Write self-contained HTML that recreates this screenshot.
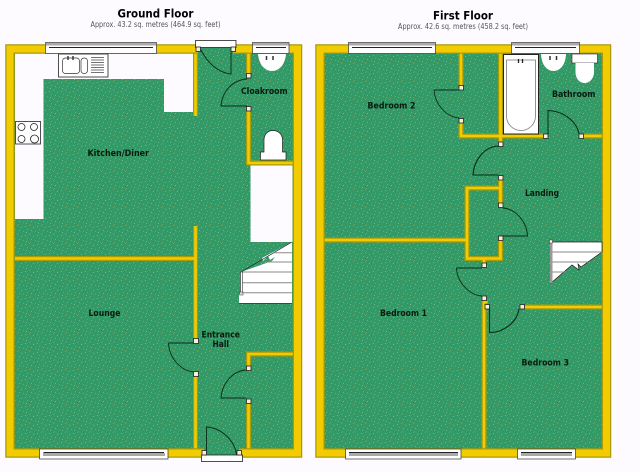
<!DOCTYPE html>
<html><head><meta charset="utf-8"><style>
html,body{margin:0;padding:0;background:#fdfbff}
svg{display:block}
text{font-family:"DejaVu Sans","Liberation Sans",sans-serif;fill:#0a1a10}
.l{font-size:8.5px;font-weight:bold}
.t{font-size:11.5px;font-weight:bold;fill:#000}
.s{font-size:7.5px;fill:#555}
</style></head><body>
<svg width="640" height="472" viewBox="0 0 640 472" xmlns="http://www.w3.org/2000/svg">
<defs>
<pattern id="d" width="12" height="9" patternUnits="userSpaceOnUse">
<rect width="12" height="9" fill="#339966"/>
<rect x="1" y="1" width="1" height="1" fill="#6db58b"/><rect x="5" y="0" width="1" height="1" fill="#5aaa7e"/>
<rect x="9" y="2" width="1" height="1" fill="#6db58b"/><rect x="3" y="4" width="1" height="1" fill="#5aaa7e"/>
<rect x="7" y="5" width="1" height="1" fill="#6db58b"/><rect x="11" y="6" width="1" height="1" fill="#5aaa7e"/>
<rect x="2" y="7" width="1" height="1" fill="#6db58b"/><rect x="6" y="8" width="1" height="1" fill="#6f9a5a"/>
</pattern>
</defs>
<rect width="640" height="472" fill="#fdfbff"/>

<!-- GROUND FLOOR -->
<rect x="10" y="49" width="287.5" height="404" fill="url(#d)"/>
<path d="M15 53H193V112H164V79H43.5V219H15Z" fill="#fdfbff"/>
<rect x="250.5" y="165" width="42" height="77" fill="#fdfbff"/>
<g fill="none" stroke="#a89a08" stroke-width="5">
<path d="M195.5 53V116M195.5 226V341M195.5 374V449M15 258.5H195.5M248.5 53V75M248.5 108V163H293M248.5 366V354H293M248.5 401V449"/>
</g>
<g fill="none" stroke="#f2cc00" stroke-width="2.6">
<path d="M195.5 53V116M195.5 226V341M195.5 374V449M15 258.5H195.5M248.5 53V75M248.5 108V163H293M248.5 366V354H293M248.5 401V449"/>
</g>
<rect x="10" y="49" width="287.5" height="404" fill="none" stroke="#a89a08" stroke-width="9.5"/>
<rect x="10" y="49" width="287.5" height="404" fill="none" stroke="#f2cc00" stroke-width="7"/>
<rect x="198" y="44" width="35" height="30" fill="url(#d)"/>
<rect x="204" y="448" width="35" height="8" fill="url(#d)"/>
<rect x="195.5" y="40.5" width="40.5" height="7" fill="#fff" stroke="#222" stroke-width=".8"/>
<rect x="201.5" y="455" width="41" height="6.5" fill="#fff" stroke="#222" stroke-width=".8"/>
<g fill="none" stroke="#0b2a18" stroke-width=".9">
<path d="M201 50C207 62 218 73 231 74V47"/>
<path d="M247 79C232 80 222 92 221 106H247"/>
<path d="M168.5 343H194M168.5 343C169 358 181 371 194 372"/>
<path d="M246 370C232 371 222 384 221 398H246"/>
<path d="M206.5 455V427C222 428 235 441 236.500 455"/>
</g>
<g fill="#f7f0d8" stroke="#222" stroke-width=".8">
<rect x="196" y="47" width="4.5" height="4.5"/><rect x="231" y="47" width="4.5" height="4.5"/>
<rect x="246.5" y="73.5" width="4.5" height="4.5"/><rect x="246.5" y="106.5" width="4.5" height="4.5"/>
<rect x="193.5" y="338.5" width="5" height="5"/><rect x="193.5" y="371.5" width="5" height="5"/>
<rect x="246.5" y="366" width="4.5" height="4.5"/><rect x="246.5" y="399" width="4.5" height="4.5"/>
<rect x="202" y="450.5" width="4.5" height="4.5"/><rect x="237" y="450.5" width="4.5" height="4.5"/>
</g>
<rect x="58.5" y="54" width="49.5" height="23" fill="#fff" stroke="#222" stroke-width=".8"/>
<rect x="62.5" y="58" width="17" height="15.5" rx="3" fill="#fff" stroke="#333" stroke-width=".7"/>
<rect x="81" y="58" width="6.5" height="15.5" rx="3" fill="#fff" stroke="#333" stroke-width=".7"/>
<path d="M68 56v4M73 56v4" stroke="#222" stroke-width="1.3"/>
<path d="M91 57.5h13M91 60h13M91 62.5h13M91 65h13M91 67.5h13M91 70h13M91 72.5h13" stroke="#444" stroke-width=".8"/>
<rect x="15.5" y="121.5" width="25" height="22.5" fill="#fff" stroke="#222" stroke-width=".8"/>
<g fill="#fff" stroke="#222" stroke-width=".8"><circle cx="21.5" cy="127" r="3.5"/><circle cx="34" cy="127" r="3.5"/><circle cx="21.5" cy="139" r="3.5"/><circle cx="34.5" cy="139" r="4"/></g>
<path d="M258 54H286C285 65 279 71 272 71C265 71 259 65 258 54Z" fill="#fff"/>
<path d="M266.5 56v4M273 56v4" stroke="#333" stroke-width="1.5"/>
<path d="M264 152V140C264 134 268 130.5 273 130.5C278 130.5 282.5 134 282.5 140V152H286V160H260.5V152Z" fill="#fff" stroke="#222" stroke-width=".7"/>
<path d="M292 242L262 258L263 261L268 256L270 260L275 257L272 261L241 272V294H239V303H292Z" fill="#fff"/>
<path d="M292 242L241 272" fill="none" stroke="#223" stroke-width=".7"/>
<path d="M274 252.7H292M262 262H292M241 272H292M241 282.7H292M241 292.7H292" stroke="#888" stroke-width="1"/>
<path d="M239 303.5H292" stroke="#333" stroke-width=".7"/>
<rect x="240.5" y="272" width="2" height="22" fill="#fff" stroke="#333" stroke-width=".6"/>
<rect x="239.5" y="292" width="3.5" height="3" fill="#ddd" stroke="#333" stroke-width=".5"/>

<!-- FIRST FLOOR -->
<rect x="320" y="49" width="286.5" height="404" fill="url(#d)"/>
<g fill="none" stroke="#a89a08" stroke-width="5">
<path d="M461 53V87M461 121V136H545M583 136H603M500.5 53V144M500.5 178V204M500.5 238V258.5H467V188H500M324 240H467M484 258.5V263M484 301V449M525 307H603M484 302H487.5"/>
</g>
<g fill="none" stroke="#f2cc00" stroke-width="2.6">
<path d="M461 53V87M461 121V136H545M583 136H603M500.5 53V144M500.5 178V204M500.5 238V258.5H467V188H500M324 240H467M484 258.5V263M484 301V449M525 307H603M484 302H487.5"/>
</g>
<rect x="320" y="49" width="286.5" height="404" fill="none" stroke="#a89a08" stroke-width="9.5"/>
<rect x="320" y="49" width="286.5" height="404" fill="none" stroke="#f2cc00" stroke-width="7"/>
<rect x="503.5" y="54.5" width="35" height="79.5" fill="#fff" stroke="#222" stroke-width="1"/>
<path d="M506.5 60H535.5V116C535.5 125 528 130.5 521 130.5C514 130.5 506.5 125 506.5 116Z" fill="#fff" stroke="#777" stroke-width=".8"/>
<path d="M518.5 59v4M522.5 59v4" stroke="#222" stroke-width="1.3"/>
<path d="M541 54H566C565.5 65 560 71 553.5 71C547 71 541.5 65 541 54Z" fill="#fff"/>
<path d="M550 56v4M556.5 56v4" stroke="#333" stroke-width="1.5"/>
<rect x="572" y="54" width="25.5" height="9" fill="#fff" stroke="#222" stroke-width=".6"/>
<path d="M575.5 63H594V72C594 78 590 83 584.5 83C579 83 575.5 78 575.5 72Z" fill="#fff"/>
<g fill="none" stroke="#0b2a18" stroke-width=".9">
<path d="M434 90H459M434 90C435 105 447 117 459 118"/>
<path d="M548 134V110.5C564 111 577 122 579 134" stroke-width="1"/>
<path d="M498 146C484 147 474 160 473 175H498" stroke-width="1.1"/>
<path d="M503 208C516 209 527 222 527.5 236H500"/>
<path d="M456.5 268H482M456.5 268C457 282 469 295 482 296"/>
<path d="M489.5 307V332.5C504 332.5 517 322 519 309" stroke-width="1.1"/>
</g>
<g fill="#f7f0d8" stroke="#222" stroke-width=".8">
<rect x="459" y="85.5" width="4.5" height="4.5"/><rect x="459" y="118.5" width="4.5" height="4.5"/>
<rect x="543.5" y="134" width="4.5" height="4.5"/><rect x="579" y="134" width="4.5" height="4.5"/>
<rect x="498.5" y="142" width="4.5" height="4.5"/><rect x="498.5" y="175.5" width="4.5" height="4.5"/>
<rect x="498.5" y="203" width="4.5" height="4.5"/><rect x="498.5" y="236" width="4.5" height="4.5"/>
<rect x="482" y="263" width="4.5" height="4.5"/><rect x="482" y="296" width="4.5" height="4.5"/>
<rect x="485" y="304.5" width="4.5" height="4.5"/><rect x="520" y="304.5" width="4.5" height="4.5"/>
</g>
<path d="M551 242H602V252L581 267L578 264L579 270L572 265L551 283Z" fill="#fff" stroke="#222" stroke-width=".7"/>
<path d="M552 252H602M552 262H588M552 272H566" stroke="#888" stroke-width="1"/>
<rect x="550" y="242" width="2.5" height="41" fill="#999"/>
<rect x="549.5" y="240" width="3" height="3" fill="#fff" stroke="#333" stroke-width=".5"/>

<!-- WINDOWS (on top of both floors) -->
<g fill="#fff" stroke="#333" stroke-width=".7">
<rect x="45.5" y="42.5" width="111" height="11"/><rect x="252.5" y="42.5" width="36.5" height="11"/>
<rect x="39.5" y="449" width="128.5" height="10"/>
<rect x="348.5" y="42.5" width="87" height="11"/><rect x="511.5" y="42.5" width="68" height="11"/>
<rect x="345.5" y="449" width="115.5" height="10"/><rect x="517.5" y="449" width="58" height="10"/>
</g>
<g fill="#aaa">
<rect x="46" y="43" width="110" height="2.5"/><rect x="253" y="43" width="35.500" height="2.5"/>
<rect x="349" y="43" width="86" height="2.5"/><rect x="512" y="43" width="67" height="2.5"/>
<rect x="43" y="453" width="122" height="3"/><rect x="349" y="453" width="109" height="3"/><rect x="521" y="453" width="51" height="3"/>
</g>
<g stroke="#222" stroke-width="1">
<path d="M49 47.5H153M256 47.5H286M352 47.5H432M515 47.5H576"/>
<path d="M43.5 452.500H164M349 452.500H458M521 452.500H572"/>
</g>

<!-- TEXT -->
<text class="t" x="117.5" y="17.5" textLength="76" lengthAdjust="spacingAndGlyphs">Ground Floor</text>
<text class="s" x="90.5" y="27" textLength="130" lengthAdjust="spacingAndGlyphs">Approx.  43.2 sq. metres (464.9 sq. feet)</text>
<text class="t" x="433" y="19.5" textLength="60" lengthAdjust="spacingAndGlyphs">First Floor</text>
<text class="s" x="398" y="29" textLength="130" lengthAdjust="spacingAndGlyphs">Approx.  42.6 sq. metres (458.2 sq. feet)</text>
<text class="l" x="87.5" y="156" textLength="61.5" lengthAdjust="spacingAndGlyphs">Kitchen/Diner</text>
<text class="l" x="241" y="94" textLength="46.5" lengthAdjust="spacingAndGlyphs">Cloakroom</text>
<text class="l" x="88.5" y="316" textLength="32" lengthAdjust="spacingAndGlyphs">Lounge</text>
<text class="l" x="201.5" y="337.5" textLength="38.5" lengthAdjust="spacingAndGlyphs">Entrance</text>
<text class="l" x="212.5" y="347" textLength="16.5" lengthAdjust="spacingAndGlyphs">Hall</text>
<text class="l" x="367.5" y="108.5" textLength="48" lengthAdjust="spacingAndGlyphs">Bedroom 2</text>
<text class="l" x="552" y="97" textLength="43.5" lengthAdjust="spacingAndGlyphs">Bathroom</text>
<text class="l" x="525" y="196" textLength="34" lengthAdjust="spacingAndGlyphs">Landing</text>
<text class="l" x="380" y="316" textLength="47" lengthAdjust="spacingAndGlyphs">Bedroom 1</text>
<text class="l" x="521.5" y="365.5" textLength="47.5" lengthAdjust="spacingAndGlyphs">Bedroom 3</text>
</svg>
</body></html>
